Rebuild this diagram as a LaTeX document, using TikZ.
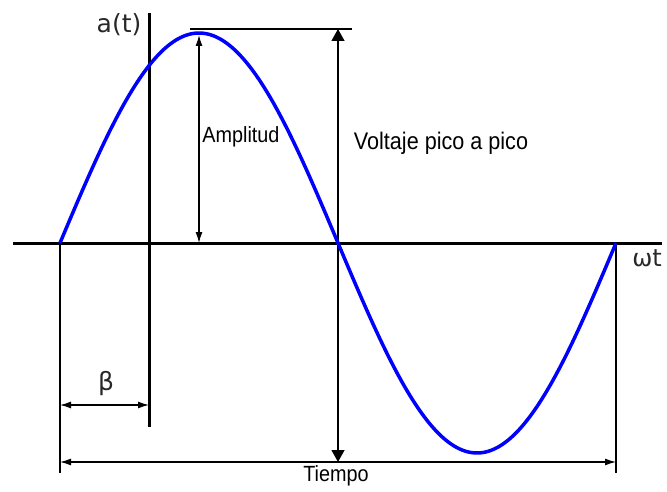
\documentclass[tikz,border=0pt]{standalone}
\usepackage{fontspec}
\setmainfont{Liberation Sans}
\newfontfamily\narrowf[FakeStretch=0.9]{Liberation Sans}
\newfontfamily\dvf{DejaVu Sans}
\usetikzlibrary{arrows.meta}
\definecolor{wavecol}{RGB}{0,0,255}
\definecolor{symcol}{RGB}{40,40,40}
\tikzset{
  tipsmall/.tip={Latex[length=11pt,width=7pt]},
  tipbig/.tip={Triangle[length=12pt,width=13pt]}}
\begin{document}
\begin{tikzpicture}[x=1pt,y=-1pt,
  axisline/.style={line width=3pt,black},
  dimline/.style={line width=1.3pt,black},
  thinline/.style={line width=1.1pt,black},
  lab/.style={inner sep=0pt,font=\narrowf},
  sym/.style={inner sep=0pt,text=symcol}]
\useasboundingbox[fill=white] (0,0) rectangle (667,492);
% coordinates
\coordinate (axL) at (13,243);
\coordinate (axR) at (662,243);
\coordinate (vT) at (149,13);
\coordinate (vB) at (149,427);
\coordinate (z0) at (60,243);
\coordinate (z2) at (616,243);
\coordinate (z0b) at (60,473);
\coordinate (z2b) at (616,473);
\coordinate (topL) at (190,29);
\coordinate (topR) at (352,29);
\coordinate (ppT) at (338,29);
\coordinate (ppB) at (338,462);
\coordinate (amT) at (199,35);
\coordinate (amB) at (199,243);
\coordinate (bL) at (60,405);
\coordinate (bR) at (149,405);
\coordinate (tL) at (60,462);
\coordinate (tR) at (616,462);
% dimension lines
\draw[thinline] (z0) -- (z0b);
\draw[thinline] (z2) -- (z2b);
\draw[thinline] (topL) -- (topR);
\draw[dimline,tipbig-tipbig] (ppT) -- (ppB);
\draw[dimline,tipsmall-tipsmall] (amT) -- (amB);
\draw[dimline,tipsmall-tipsmall] (bL) -- (bR);
\draw[dimline,tipsmall-tipsmall] (tL) -- (tR);
% axes
\draw[axisline] (axL) -- (axR);
\draw[axisline] (vT) -- (vB);
% wave
\draw[wavecol,line width=3.5pt,line join=round]
  plot[domain=0:360,samples=120,smooth] ({60+1.544444*\x},{243-210*sin(\x)});
% labels
\node[lab,font=\narrowf\fontsize{22}{26}\selectfont] (amp) at (241,137) {Amplitud};
\node[lab,font=\narrowf\fontsize{24}{28}\selectfont] (vpp) at (441,143) {Voltaje pico a pico};
\node[lab,font=\narrowf\fontsize{22}{26}\selectfont] (tiempo) at (336,476) {Tiempo};
\node[sym,font=\dvf\fontsize{25}{30}\selectfont] (at) at (119,25) {a(t)};
\node[sym,font=\dvf\fontsize{24}{28}\selectfont] (wt) at (647,258) {ωt};
\node[sym,font=\dvf\fontsize{25}{30}\selectfont] (beta) at (106,384) {β};
\end{tikzpicture}
\end{document}
